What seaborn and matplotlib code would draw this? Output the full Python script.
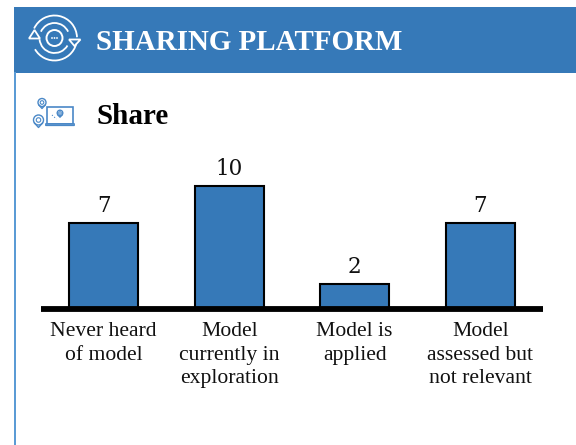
import pandas as pd
import seaborn as sns
import matplotlib.pyplot as plt
from matplotlib.patches import Arc, Circle, Polygon, Rectangle, FancyBboxPatch

categories = ['Never heard\nof model', 'Model\ncurrently in\nexploration',
              'Model is\napplied', 'Model\nassessed but\nnot relevant']
counts = [7, 10, 2, 7]

BLUE = '#3679b8'
W, H = 576, 445

sns.set_style('white')
plt.rcParams['font.family'] = ['Liberation Serif', 'DejaVu Serif']

fig = plt.figure(figsize=(W / 100, H / 100), dpi=100)

# overlay in pixel coords for the header and the icons
bg = fig.add_axes([0, 0, 1, 1])
bg.set_xlim(0, W)
bg.set_ylim(H, 0)
bg.axis('off')
bg.add_patch(Rectangle((14, 7), W - 14, 65.5, color=BLUE, lw=0))
bg.add_patch(Rectangle((14, 72), 1.5, H - 72, color='#5b9bd5', lw=0))
bg.text(95.5, 40, 'SHARING PLATFORM', color='white', fontsize=20.9, fontweight='bold',
        va='center_baseline', ha='left')
bg.text(96, 113, 'Share', color='black', fontsize=21, fontweight='bold',
        va='center_baseline', ha='left')


def sharing_icon(ax, cx, cy):
    # y axis is flipped here, so the angles run clockwise on screen
    for r, t1, t2 in [(22.5, 205, 358), (22.5, 15, 150), (15, 205, 335), (15, 30, 175)]:
        ax.add_patch(Arc((cx, cy), 2 * r, 2 * r, theta1=t1, theta2=t2, color='white', lw=1.3))
    ax.add_patch(Circle((cx, cy), 8, fill=False, ec='white', lw=1.4))
    for dx in (-2.5, 0, 2.5):
        ax.add_patch(Circle((cx + dx, cy), 0.9, color='white', lw=0))
    ax.add_patch(Polygon([(cx - 20, cy - 8), (cx - 25.5, cy + 0.5), (cx - 14.5, cy + 0.5)],
                         closed=True, fill=False, ec='white', lw=1.3))
    ax.add_patch(Polygon([(cx + 20, cy + 8), (cx + 14.5, cy + 1.5), (cx + 26, cy + 1.5)],
                         closed=True, fill=False, ec='white', lw=1.3))


def map_pin(ax, cx, cy, r, color):
    ax.add_patch(Circle((cx, cy), r, fill=False, ec=color, lw=1))
    ax.add_patch(Circle((cx, cy), r * 0.45, fill=False, ec=color, lw=0.8))
    ax.plot([cx - r * 0.85, cx, cx + r * 0.85], [cy + r * 0.55, cy + r * 1.5, cy + r * 0.55],
            color=color, lw=1)


def laptop_icon(ax, color):
    ax.add_patch(Rectangle((47, 107), 26, 16.5, fill=False, ec=color, lw=1.2))
    ax.add_patch(FancyBboxPatch((46, 124), 28, 1.2, boxstyle='round,pad=0.3', fill=False, ec=color, lw=0.9))
    map_pin(ax, 60, 113, 2.8, color)
    ax.plot([52, 56.5], [115, 119], color=color, lw=0.8, ls=':')
    map_pin(ax, 42, 102.5, 4, color)
    map_pin(ax, 38.5, 120, 5, color)


sharing_icon(bg, 54.5, 38)
laptop_icon(bg, '#4a88c7')

df = pd.DataFrame({'category': categories, 'count': counts})

ax = fig.add_axes([40.9 / W, 1 - 308.5 / H, 502 / W, 159.25 / H])
ax.patch.set_alpha(0)
sns.barplot(data=df, x='category', y='count', color=BLUE, saturation=1, width=0.55,
            edgecolor='black', linewidth=1.5, ax=ax)
ax.set_xlim(-0.5, 3.5)
ax.set_ylim(0, 13)
ax.set_xlabel('')
ax.set_ylabel('')
ax.set_yticks([])
ax.tick_params(axis='x', length=0, pad=10, labelsize=15.6, labelcolor='#111111')
for label in ax.get_xticklabels():
    label.set_linespacing(1.3)
sns.despine(ax=ax, left=True)
ax.spines['bottom'].set_linewidth(4.2)
ax.spines['bottom'].set_color('black')
ax.spines['bottom'].set_capstyle('butt')
ax.bar_label(ax.containers[0], padding=4, fontsize=15.5, family='DejaVu Serif', color='#111111')

fig.savefig('out.png', dpi=100)
